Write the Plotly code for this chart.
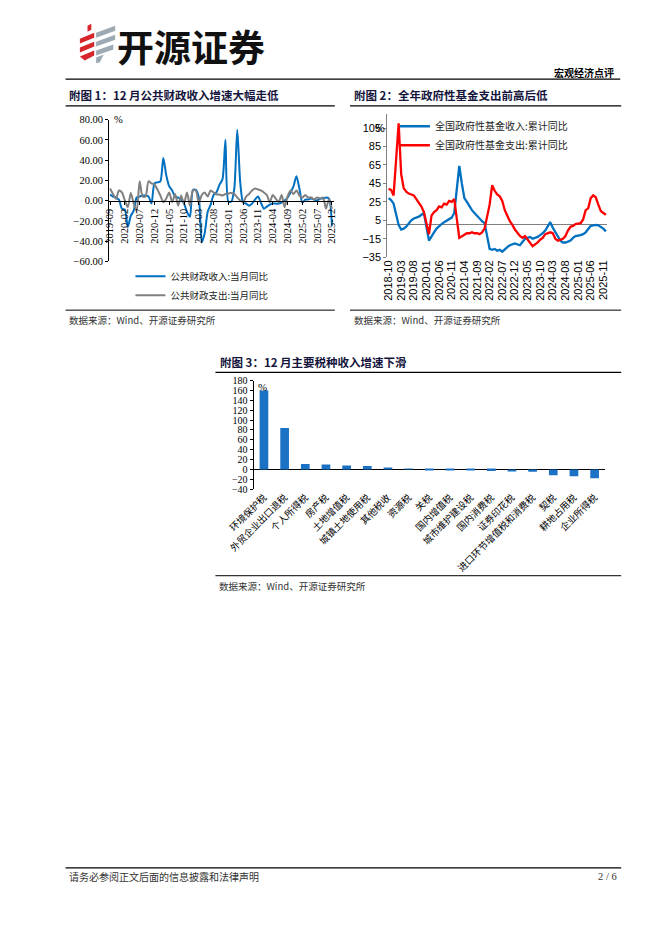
import plotly.graph_objects as go
import pandas as pd

W, H = 662, 936
OFF = 8  # page body margin of the browser


def px(x):
    return (x - OFF) / W


def py(y):
    return 1 - (y - OFF) / H


CJK = "Noto Sans CJK SC"
SERIF = "Liberation Serif"
SANS = "Liberation Sans"

# ---------------- Chart 1: public finance, monthly YoY (%) ----------------
c1_months = [p.strftime('%Y-%m') for p in pd.period_range('2019-09', '2025-12', freq='M')]
c1_ticks = ['2019-09', '2020-02', '2020-07', '2020-12', '2021-05', '2021-10', '2022-03', '2022-08',
            '2023-01', '2023-06', '2023-11', '2024-04', '2024-09', '2025-02', '2025-07', '2025-12']
c1_revenue = [6, 4, 3, 1, -8, -9, -26, -15, -10, 3,
              4, 5, 5, 4, -3, 17, 18, 19, 42, 25,
              14, 10, 4, 3, 1, -3, -11, -16, 10.5, 10.5,
              3, -41, -32, -11, -4, 5.6, 8.4, 15.7, 21, 60,
              -1, -1, 12, 70, 18, -2, -3, -5, -3, 1,
              4, -2, -8, -6, -4, -3, -3, -3, -2, 0,
              3, 8, 14, 24, 12, -2, 1, 1, 2, 1,
              0, 2, 2, 3, 2, -25]
c1_spending = [12, 6.5, 1.6, 10, 8, 0, -6.5, 7.5, -3, -10,
               19, 4, 4, 19, 17, 16, 11, 5, -1.6, 2,
               8, -1.6, 6.5, -5, 5, -3, 8, -5, 10, 10,
               -2.6, 5.5, 8, 4, 10, 8, 6, 6, 5, 6.5,
               7, 7.5, 6.5, 3, 0, -1.6, 4, 6.5, 10, 12,
               11, 10, 8, 5.5, -1.6, 5.5, 2, -1.6, 5.5, -6.5,
               4, 10, 6.5, 10, 5, 3, 5.5, 3, 3, 1,
               3, 2, 3, -8, 1.6, -8]
c1_yticks = [-60, -40, -20, 0, 20, 40, 60, 80]

# ---------------- Chart 2: government fund, cumulative YoY (%) ----------------
c2_months = [p.strftime('%Y-%m') for p in pd.period_range('2018-10', '2025-12', freq='M')]
c2_ticks = ['2018-10', '2019-03', '2019-08', '2020-01', '2020-06', '2020-11', '2021-04', '2021-09',
            '2022-02', '2022-07', '2022-12', '2023-05', '2023-10', '2024-03', '2024-08', '2025-01',
            '2025-06', '2025-11']
c2_fund_rev = [29, 27, 23, None, 0, -5, -4, -2, 2, 5,
               7, 8, 9, 11, 13, None, -17, -12, -8, -4,
               -1, 1, 3, 5, 6, 8, 13, None, 64, 45,
               29, 25, 20, 16, 13, 10, 6, 4, 2, None,
               -26, -27, -26, -28, -27, -29, -26, -24, -22, -21,
               -20, None, -22, -19, -15, -14, -13, -15, -14, -13,
               -11, -9, -6, None, 3, -3, -8, -12, -17, -19,
               -19, -18, -17, -14, -12, None, -11, -10, -8, -4,
               -1, -0.5, 0, -0.5, -2, -4, -7]
c2_fund_exp = [39, 38, 32, None, 110, 55, 40, 36, 34, 33,
               32, 28, 24, 20, 14, None, -10, 10, 14, 16,
               20, 19, 23, 22, 26, 25, 28, None, -14, -12,
               -10, -9, -9, -8, -9, -9, -10, -8, -4, None,
               22, 43, 37, 33, 31, 26, 16, 10, 4, 0,
               -5, None, -12, -14, -12, -16, -20, -23, -21, -19,
               -16, -14, -10, None, -8, -9, -15, -17, -16, -15,
               -12, -6, -2, -1, 1, None, 2, 6, 16, 18,
               29, 32, 30, 22, 15, 13, 11]
c2_yticks = [-35, -15, 5, 25, 45, 65, 85, 105]

# ---------------- Chart 3: major taxes, December YoY (%) ----------------
c3_taxes = ['环境保护税', '外贸企业出口退税', '个人所得税', '房产税', '土地增值税', '城镇土地使用税',
            '其他税收', '资源税', '关税', '国内增值税', '城市维护建设税', '国内消费税', '证券印花税',
            '进口环节增值税和消费税', '契税', '耕地占用税', '企业所得税']
c3_growth = [160, 84, 11, 10, 8, 7, 3, 0.4, -0.5, -1.5, -2.5, -3.5, -4.5, -5, -12, -14, -18]
c3_yticks = [-40, -20, 0, 20, 40, 60, 80, 100, 120, 140, 160, 180]

BLUE = '#0070C0'
GRAY = '#808080'
RED = '#FF0000'

fig = go.Figure()
fig.add_trace(go.Scatter(x=c1_months, y=c1_revenue, name='公共财政收入:当月同比', mode='lines',
                         line=dict(color=BLUE, width=2, shape='spline', smoothing=0.7),
                         xaxis='x', yaxis='y', legend='legend'))
fig.add_trace(go.Scatter(x=c1_months, y=c1_spending, name='公共财政支出:当月同比', mode='lines',
                         line=dict(color=GRAY, width=2, shape='spline', smoothing=0.7),
                         xaxis='x', yaxis='y', legend='legend'))
fig.add_trace(go.Scatter(x=c2_months, y=c2_fund_rev, name='全国政府性基金收入:累计同比', mode='lines',
                         line=dict(color=BLUE, width=2.3), connectgaps=True,
                         xaxis='x2', yaxis='y2', legend='legend2'))
fig.add_trace(go.Scatter(x=c2_months, y=c2_fund_exp, name='全国政府性基金支出:累计同比', mode='lines',
                         line=dict(color=RED, width=2.3), connectgaps=True,
                         xaxis='x2', yaxis='y2', legend='legend2'))
fig.add_trace(go.Bar(x=c3_taxes, y=c3_growth, marker=dict(color='#1B72C4', line=dict(width=0)),
                     width=0.42, showlegend=False, xaxis='x3', yaxis='y3'))

# geometry
c1_top, c1_bot = 115, 258.5
c1_ymin, c1_ymax = -60, 80
c1_zero = py(c1_bot) + (0 - c1_ymin) / (c1_ymax - c1_ymin) * (py(c1_top) - py(c1_bot))

fig.update_layout(
    width=W, height=H, margin=dict(l=0, r=0, t=0, b=0),
    paper_bgcolor='white', plot_bgcolor='rgba(0,0,0,0)', showlegend=True,
    xaxis=dict(domain=[px(85.7), px(321.5)], anchor='free', position=c1_zero, type='category',
               range=[-0.3, 75.8], tickmode='array', tickvals=c1_ticks, ticktext=c1_ticks,
               tickangle=-90, showline=True, linecolor='black', linewidth=1, ticks='outside',
               ticklen=3, tickcolor='black', showgrid=False, zeroline=False,
               tickfont=dict(family=SERIF, size=10.5, color='black')),
    yaxis=dict(domain=[py(c1_bot), py(c1_top)], anchor='x', range=[c1_ymin, c1_ymax],
               tickmode='array', tickvals=c1_yticks, tickformat='.2f', showline=True,
               linecolor='black', linewidth=1, ticks='outside', ticklen=3, tickcolor='black',
               showgrid=False, zeroline=False, tickfont=dict(family=SERIF, size=10.5, color='black')),
    xaxis2=dict(domain=[px(377), px(607.3)], anchor='y2', type='category', range=[-0.5, 86.5],
                tickmode='array', tickvals=c2_ticks, ticktext=c2_ticks, tickangle=-90,
                showline=False, ticks='', showgrid=False, zeroline=False,
                tickfont=dict(family=SANS, size=11, color='black')),
    yaxis2=dict(domain=[py(254.4), py(109.5)], anchor='x2', range=[-35, 120], tickmode='array',
                tickvals=c2_yticks, showline=True, linecolor=GRAY, linewidth=1, ticks='outside',
                ticklen=3, tickcolor=GRAY, showgrid=False, zeroline=True, zerolinecolor=GRAY,
                zerolinewidth=1, tickfont=dict(family=SANS, size=11, color='black')),
    xaxis3=dict(domain=[px(237), px(605)], anchor='y3', type='category', range=[-0.5, 16.5],
                tickangle=-45, showline=False, ticks='', showgrid=False, zeroline=False,
                tickfont=dict(family=CJK, size=9.5, color='black')),
    yaxis3=dict(domain=[py(489.3), py(379.3)], anchor='x3', range=[-40, 180], tickmode='array',
                tickvals=c3_yticks, showline=True, linecolor='black', linewidth=1, ticks='outside',
                ticklen=3, tickcolor='black', showgrid=False, zeroline=True, zerolinecolor='black',
                zerolinewidth=1, tickfont=dict(family=SERIF, size=10, color='black')),
    legend=dict(x=px(108), y=py(259), xanchor='left', yanchor='top', bgcolor='rgba(0,0,0,0)',
                font=dict(family=CJK, size=9.5, color='#222'), tracegroupgap=0),
    legend2=dict(x=px(385), y=py(107), xanchor='left', yanchor='top', bgcolor='rgba(0,0,0,0)',
                 font=dict(family=CJK, size=10, color='#222'), tracegroupgap=0),
)

# ---------- page decorations ----------
shapes = []


def hline(x0, x1, y, w=1.2, color='black'):
    shapes.append(dict(type='line', xref='paper', yref='paper', x0=px(x0), x1=px(x1),
                       y0=py(y), y1=py(y), line=dict(color=color, width=w)))


hline(40, 621, 74)
hline(40, 322, 101)
hline(338, 622, 101)
hline(40, 322, 308, 1)
hline(338, 622, 308, 1)
hline(197, 622, 371)
hline(197, 622, 577, 1)
hline(40, 622, 873)


def poly(pts, color):
    d = 'M ' + ' L '.join(f'{px(x):.5f},{py(y):.5f}' for x, y in pts) + ' Z'
    shapes.append(dict(type='path', xref='paper', yref='paper', path=d,
                       fillcolor=color, line=dict(width=0)))


LOGO_RED = '#D7262B'
LOGO_GRAY = '#9DAAB4'
poly([(63, 20), (67, 18), (67, 24), (63, 26)], LOGO_RED)
poly([(55, 33), (70, 27), (70, 32), (55, 38)], LOGO_RED)
poly([(55, 42), (70, 36), (70, 41), (55, 47)], LOGO_RED)
poly([(55, 51), (70, 45), (70, 50), (60, 55)], LOGO_RED)
poly([(72, 27), (92, 20), (92, 25), (72, 32)], LOGO_GRAY)
poly([(72, 36), (92, 29), (92, 34), (72, 41)], LOGO_GRAY)
poly([(72, 45), (90, 39), (90, 44), (72, 50)], LOGO_GRAY)
poly([(72, 52), (80, 49), (76, 57), (72, 58)], LOGO_GRAY)

annotations = []


def text(x, y, s, size=10, family=CJK, xanchor='left', color='black', bold=False):
    annotations.append(dict(x=px(x), y=py(y), xref='paper', yref='paper', text=(f'<b>{s}</b>' if bold else s),
                            showarrow=False, xanchor=xanchor, yanchor='middle',
                            font=dict(family=family, size=size, color=color)))


text(92, 40, '开源证券', size=37, bold=True, color='#111')
text(617, 67, '宏观经济点评', size=10, bold=True, xanchor='right')
text(42, 90, '附图 1：12 月公共财政收入增速大幅走低', size=11.5, bold=True, color='#14143C')
text(340, 90, '附图 2：全年政府性基金支出前高后低', size=11.5, bold=True, color='#14143C')
text(200, 361, '附图 3：12 月主要税种收入增速下滑', size=11.5, bold=True, color='#14143C')
text(42, 318, '数据来源：Wind、开源证券研究所', size=9.5, color='#333')
text(340, 318, '数据来源：Wind、开源证券研究所', size=9.5, color='#333')
text(199, 587, '数据来源：Wind、开源证券研究所', size=9.5, color='#333')
text(42, 882, '请务必参阅正文后面的信息披露和法律声明', size=10, color='#333')
text(620, 882, '2 / 6', size=10.5, family=SERIF, xanchor='right', color='#333')
text(89, 115, '%', size=10.5, family=SERIF)
text(369, 123, '%', size=11, family=SANS, xanchor='center')
text(240, 386, '%', size=11, family=SERIF)

fig.update_layout(shapes=shapes, annotations=annotations)
fig.write_html('out.html')
